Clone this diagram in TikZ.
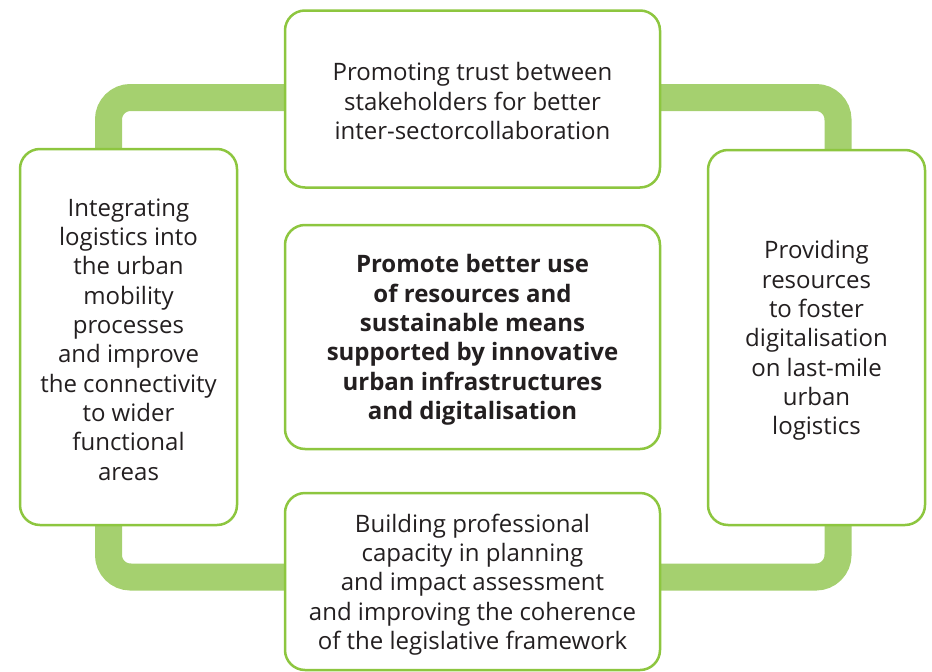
\documentclass[tikz,border=0pt]{standalone}
\usepackage{fontspec}
\setmainfont{Open Sans}
\definecolor{band}{HTML}{A5D06F}
\definecolor{edge}{HTML}{8DC63F}
\definecolor{txt}{HTML}{231F20}
\begin{document}
\begin{tikzpicture}[x=1pt,y=-1pt,
  box/.style={draw=edge, line width=2.5pt, fill=white, rounded corners=20pt, inner sep=0pt},
  boxtext/.style={align=center, inner sep=0pt, text=txt,
    font=\fontsize{24}{29.3}\selectfont},
  bandline/.style={draw=band, line width=27pt, rounded corners=22pt}]
\useasboundingbox (0,0) rectangle (932,672);
\coordinate (bandA) at (108.5,97.5);
\coordinate (bandB) at (838,577);
\draw[bandline] (bandA) rectangle (bandB);
\node[box, minimum width=375pt, minimum height=177pt] (top) at (472.5,99) {};
\node[box, minimum width=217pt, minimum height=376pt] (left) at (128.5,337) {};
\node[box, minimum width=217pt, minimum height=375pt] (right) at (816.5,337.5) {};
\node[box, minimum width=375pt, minimum height=224pt] (center) at (472.5,337) {};
\node[box, minimum width=375pt, minimum height=177pt] (bottom) at (472.5,581.5) {};
\node[boxtext] (topT) at ([yshift=-2pt]top.center) {Promoting trust between\\stakeholders for better\\inter-sectorcollaboration};
\node[boxtext] (leftT) at ([yshift=-2.5pt]left.center) {Integrating\\logistics into\\the urban\\mobility\\processes\\and improve\\the connectivity\\to wider\\functional\\areas};
\node[boxtext] (rightT) at ([yshift=-3pt]right.center) {Providing\\resources\\to foster\\digitalisation\\on last-mile\\urban\\logistics};
\node[boxtext, font=\fontsize{24}{29.3}\selectfont\bfseries] (centerT) at ([yshift=-3pt]center.center) {Promote better use\\of resources and\\sustainable means\\supported by innovative\\urban infrastructures\\and digitalisation};
\node[boxtext] (bottomT) at ([yshift=-3pt]bottom.center) {Building professional\\capacity in planning\\and impact assessment\\and improving the coherence\\of the legislative framework};
\end{tikzpicture}
\end{document}
